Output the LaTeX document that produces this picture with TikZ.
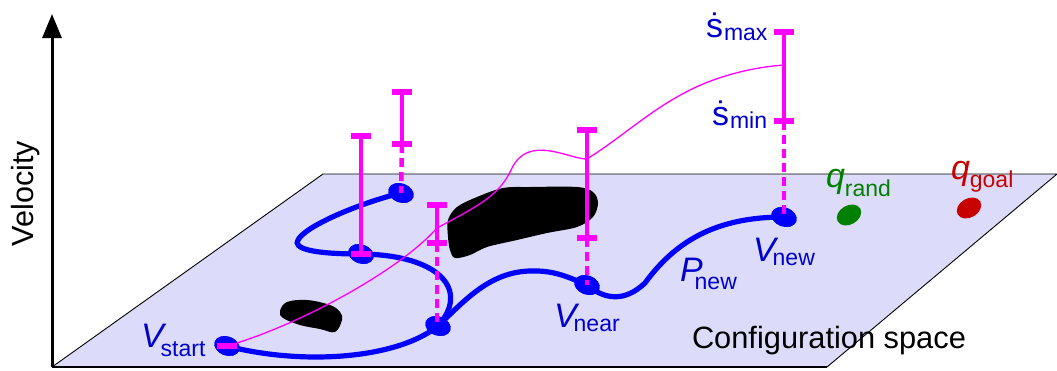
\documentclass[tikz,border=0pt]{standalone}
\usepackage{fontspec}
\setmainfont{Liberation Sans}
\usetikzlibrary{arrows.meta,shapes.geometric}
\definecolor{planefill}{RGB}{220,220,250}
\definecolor{pathblue}{RGB}{0,0,255}
\definecolor{labblue}{RGB}{0,0,205}
\definecolor{mag}{RGB}{255,0,255}
\definecolor{qgreen}{RGB}{0,128,0}
\definecolor{qred}{RGB}{200,0,0}
\newcommand\mainsz{\fontsize{34}{34}\selectfont}
\newcommand\subsz{\fontsize{23}{23}\selectfont}
\newcommand\mklab[4]{{\mainsz #1}\kern#3pt\raisebox{-#2pt}{\subsz #4}}
\tikzset{
  lab/.style={anchor=base west,inner sep=0pt,outer sep=0pt},
  vert/.style={ellipse,fill=pathblue,minimum width=26pt,minimum height=19pt,inner sep=0pt,rotate=-20},
  qpt/.style={ellipse,minimum width=26pt,minimum height=19pt,inner sep=0pt,rotate=20},
  bluepath/.style={draw=pathblue,line width=5.2pt,line cap=round},
  barsolid/.style={draw=mag,line width=4.5pt},
  bardash/.style={draw=mag,line width=4.5pt,dash pattern=on 9pt off 5pt},
  barcap/.style={draw=mag,line width=5.5pt},
  thincurve/.style={draw=mag,line width=1.3pt},
  obst/.style={fill=black},
}
\begin{document}
\begin{tikzpicture}[x=1pt,y=-1pt]
\useasboundingbox (0,0) rectangle (1057,370);
% plane
\coordinate (P1) at (52,367);
\coordinate (P2) at (323,174);
\coordinate (P3) at (1057,174);
\coordinate (P4) at (827,367);
\fill[planefill] (P1) -- (P2) -- (P3) -- (P4) -- cycle;
\draw[line width=0.9pt] (P1) -- (P2) -- (P3) -- (P4);
\draw[line width=2pt] (P4) -- (P1);
% axis
\coordinate (ytop) at (52,14);
\draw[line width=3pt,-{Triangle[length=24pt,width=19pt]}] (P1) -- (ytop);
\node[rotate=90,anchor=base,inner sep=0pt,font=\fontsize{30.6}{30.6}\selectfont] (vel) at (33,193.5) {Velocity};
\node[lab,font=\fontsize{30.8}{30.8}\selectfont] (cspace) at (692,348) {Configuration space};
% obstacles
\fill[obst] plot[smooth cycle,tension=0.6] coordinates {(280,311) (287,302) (307,300) (330,305) (340,312) (342,320) (335,332) (320,329) (300,325) (283,318)};
\fill[obst] plot[smooth cycle,tension=0.55] coordinates {(448,220) (457,207) (477,197) (503,188) (530,187) (577,187) (593,192) (598,203) (593,217) (577,227) (547,233) (517,240) (487,247) (470,255) (455,258) (450,250) (448,237)};
% vertices
\node[vert] (S) at (227,346) {};
\node[vert] (A) at (438,326) {};
\node[vert] (B) at (361,254) {};
\node[vert] (C) at (401,193) {};
\node[vert] (N) at (587,285) {};
\node[vert] (W) at (784,217) {};
\node[qpt,fill=qgreen,rotate=10] (qr) at (849,215) {};
\node[qpt,fill=qred,rotate=10] (qg) at (969,208) {};
% blue path
\draw[bluepath] (S.center) .. controls (300,365) and (395,360) .. (A.center);
\draw[bluepath] (A.center) .. controls (465,300) and (490,272) .. (530,271) .. controls (555,270) and (570,278) .. (N.center);
\draw[bluepath] (N.center) .. controls (605,300) and (625,302) .. (645,283) .. controls (675,242) and (715,217) .. (W.center);
\draw[bluepath] (A.center) .. controls (470,290) and (440,255) .. (B.center);
\draw[bluepath] (B.center) .. controls (310,254) and (293,248) .. (298,240) .. controls (305,226) and (360,203) .. (C.center);
% redraw vertices on top of path
\foreach \v in {S,A,B,C,N,W} {\fill[pathblue,rotate around={-20:(\v.center)}] (\v.center) ellipse (13pt and 9.5pt);}
% thin velocity curve
\draw[thincurve] (S.center) .. controls (300,325) and (400,270) .. (437,228) .. controls (480,205) and (500,195) .. (512,168) .. controls (522,148) and (540,148) .. (560,153) .. controls (572,156) and (580,159) .. (587,159) .. controls (625,135) and (650,110) .. (690,90) .. controls (720,75) and (755,67) .. (784,65);
% bars
\coordinate (Sc) at (227,346);
\draw[barcap] ([xshift=-10pt]Sc) -- ([xshift=10pt]Sc);
% B
\coordinate (Bt) at (361,136);
\coordinate (Bb) at (361,254);
\draw[barsolid] (Bt) -- (Bb);
\draw[barcap] ([xshift=-10pt]Bt) -- ([xshift=10pt]Bt);
\draw[barcap] ([xshift=-10pt]Bb) -- ([xshift=10pt]Bb);
% C
\coordinate (Ct) at (402,92);
\coordinate (Cm) at (402,144);
\draw[barsolid] (Ct) -- (Cm);
\draw[bardash] (Cm) -- (C.center);
\draw[barcap] ([xshift=-10pt]Ct) -- ([xshift=10pt]Ct);
\draw[barcap] ([xshift=-10pt]Cm) -- ([xshift=10pt]Cm);
% A
\coordinate (At) at (437,205);
\coordinate (Am) at (437,243);
\draw[barsolid] (At) -- (Am);
\draw[bardash] (Am) -- (437,326);
\draw[barcap] ([xshift=-10pt]At) -- ([xshift=10pt]At);
\draw[barcap] ([xshift=-10pt]Am) -- ([xshift=10pt]Am);
% N
\coordinate (Nt) at (587,130);
\coordinate (Nm) at (587,238);
\draw[barsolid] (Nt) -- (Nm);
\draw[bardash] (Nm) -- (N.center);
\draw[barcap] ([xshift=-10pt]Nt) -- ([xshift=10pt]Nt);
\draw[barcap] ([xshift=-10pt]Nm) -- ([xshift=10pt]Nm);
% W
\coordinate (Wt) at (784,32);
\coordinate (Wm) at (784,121);
\draw[barsolid] (Wt) -- (Wm);
\draw[bardash] (Wm) -- (W.center);
\draw[barcap] ([xshift=-10pt]Wt) -- ([xshift=10pt]Wt);
\draw[barcap] ([xshift=-10pt]Wm) -- ([xshift=10pt]Wm);
% labels
\node[lab,text=labblue] (lS) at (141,347) {\mklab{\itshape V}{9}{-3}{start}};
\node[lab,text=labblue] (lN) at (554,327) {\mklab{\itshape V}{4}{-3}{near}};
\node[lab,text=labblue] (lW) at (753,261) {\mklab{\itshape V}{4}{-3}{new}};
\node[lab,text=labblue] (lP) at (680,281) {\mklab{\itshape P}{8}{-8}{new}};
\node[lab,text=labblue] (lmax) at (706,37) {\mklab{\.{s}}{3}{1}{max}};
\node[lab,text=labblue] (lmin) at (712,125) {\mklab{\.{s}}{3}{1}{min}};
\node[lab,text=qgreen] (lqr) at (826,187) {\mklab{\itshape q}{9}{0}{rand}};
\node[lab,text=qred] (lqg) at (951,179) {\mklab{\itshape q}{8}{0}{goal}};
\end{tikzpicture}
\end{document}
